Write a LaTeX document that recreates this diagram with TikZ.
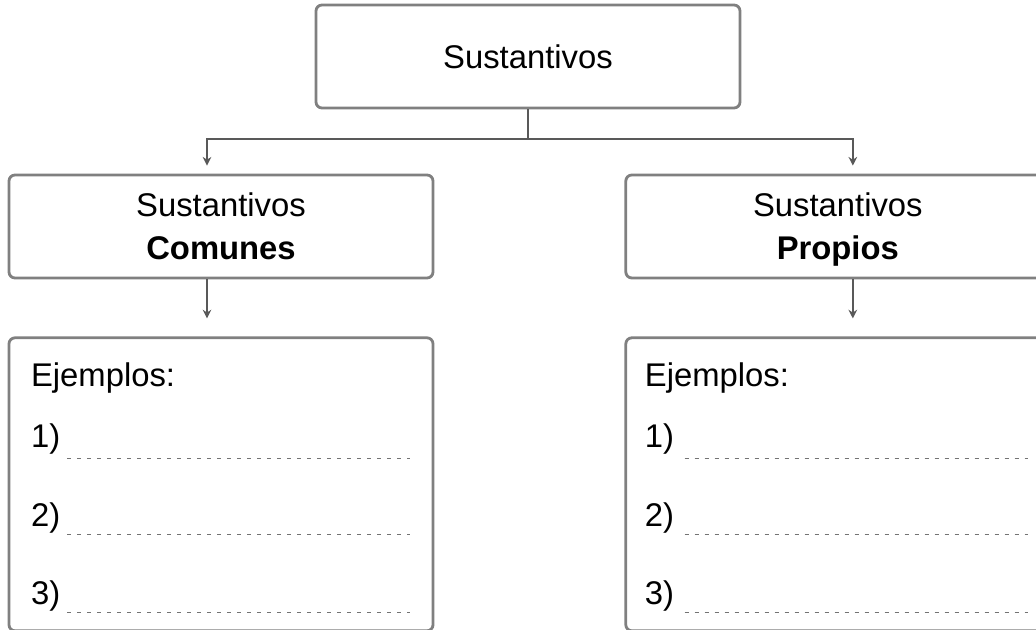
\documentclass[tikz,border=0pt]{standalone}
\usepackage{fontspec}
\setmainfont{Liberation Sans}
\usetikzlibrary{arrows.meta, positioning}

\begin{document}
\begin{tikzpicture}[
    node distance=0.855cm and 2.85cm,
    font=\fontsize{14}{18.3}\selectfont,
    >={Stealth[length=0.13cm,width=0.13cm]},
    box/.style={rectangle, draw=black!50, line width=1.2pt, rounded corners=0.09cm, fill=white, align=center, minimum width=6.36cm, minimum height=1.545cm, inner sep=2pt},
    exbox/.style={box, minimum height=4.395cm},
    item/.style={anchor=base west, inner sep=0pt},
    line/.style={draw, black!65, line width=0.8pt},
    blank/.style={draw=black!55, line width=0.75pt, dash pattern=on 0.06cm off 0.09cm}
]

% Frame
\clip (0,0) rectangle (15.54,-9.45);

% Nodes
\node[box] (top) at (7.92,-0.8475) {Sustantivos};

\node[box, text depth=0pt] (comunes) at (3.315,-3.3975) {Sustantivos\\\textbf{Comunes}};
\node[box, text depth=0pt, right=of comunes] (propios) {Sustantivos\\\textbf{Propios}};

\node[exbox, below=of comunes] (excom) {};
\node[exbox, below=of propios] (exprop) {};

% Examples
\node[item] (ejcom) at ([xshift=0.345cm,yshift=-0.75cm]excom.north west) {Ejemplos:};
\node[item] (com1) at ([xshift=0.345cm,yshift=-1.665cm]excom.north west) {1)};
\node[item] (com2) at ([xshift=0.345cm,yshift=-2.85cm]excom.north west) {2)};
\node[item] (com3) at ([xshift=0.345cm,yshift=-4.02cm]excom.north west) {3)};

\node[item] (ejprop) at ([xshift=0.3cm,yshift=-0.75cm]exprop.north west) {Ejemplos:};
\node[item] (prop1) at ([xshift=0.3cm,yshift=-1.665cm]exprop.north west) {1)};
\node[item] (prop2) at ([xshift=0.3cm,yshift=-2.85cm]exprop.north west) {2)};
\node[item] (prop3) at ([xshift=0.3cm,yshift=-4.02cm]exprop.north west) {3)};

% Blanks
\draw[blank] ([xshift=0.1cm,yshift=-0.165cm]com1.base east) -- ++(5.145,0);
\draw[blank] ([xshift=0.1cm,yshift=-0.12cm]com2.base east) -- ++(5.145,0);
\draw[blank] ([xshift=0.1cm,yshift=-0.12cm]com3.base east) -- ++(5.145,0);
\draw[blank] ([xshift=0.15cm,yshift=-0.165cm]prop1.base east) -- ++(5.145,0);
\draw[blank] ([xshift=0.15cm,yshift=-0.12cm]prop2.base east) -- ++(5.145,0);
\draw[blank] ([xshift=0.15cm,yshift=-0.12cm]prop3.base east) -- ++(5.145,0);

% Edges
\draw[line] (top.south) -- ++(0,-0.45) coordinate (split);
\draw[line, ->, shorten >=0.12cm] (split) -| ([xshift=-0.21cm]comunes.north);
\draw[line, ->, shorten >=0.12cm] (split) -| ([xshift=0.225cm]propios.north);
\draw[line, ->, shorten >=0.27cm] ([xshift=-0.21cm]comunes.south) -- ([xshift=-0.21cm]excom.north);
\draw[line, ->, shorten >=0.27cm] ([xshift=0.225cm]propios.south) -- ([xshift=0.225cm]exprop.north);

\end{tikzpicture}
\end{document}
